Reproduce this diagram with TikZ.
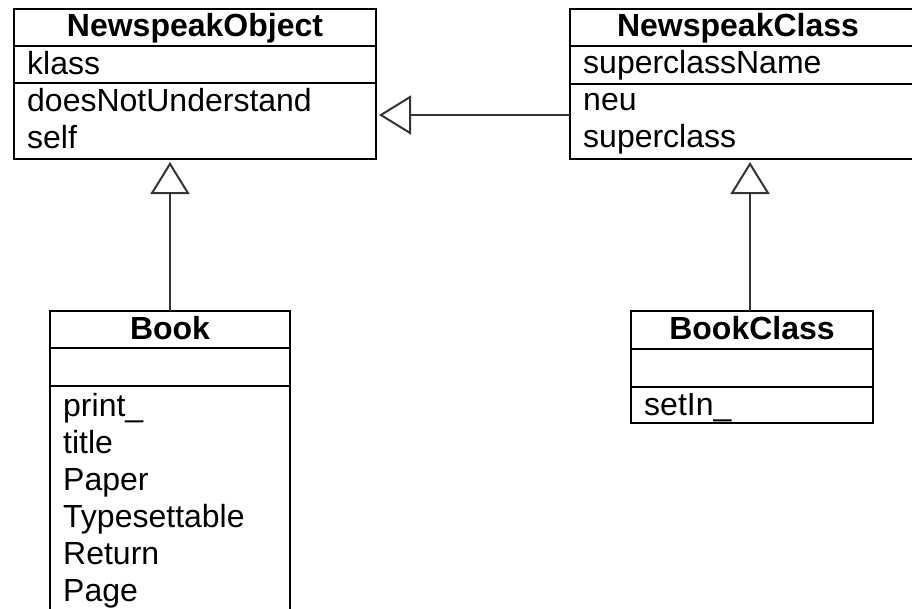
\documentclass[tikz,border=0pt]{standalone}
\usepackage{fontspec}
\setmainfont{Liberation Sans}
\usetikzlibrary{arrows.meta}

\tikzset{
  umlbox/.style={draw, line width=2pt, inner sep=0pt, outer sep=0pt, anchor=north west},
  sep/.style={line width=2pt},
  member/.style={anchor=base west, inner sep=0pt, font=\fontsize{32}{37}\selectfont},
  cname/.style={anchor=base, inner sep=0pt, font=\fontsize{32}{37}\selectfont\bfseries},
  inherit/.style={line width=2pt, draw=black!80, shorten >=3pt,
    -{Triangle[open, length=32pt, width=39pt, line width=2pt]}}
}

\begin{document}
\begin{tikzpicture}[x=1pt, y=-1pt]
\useasboundingbox (0,0) rectangle (912,608);
\clip (0,0) rectangle (912,608);

% NewspeakObject
\node[umlbox, minimum width=362pt, minimum height=150pt] (obj) at (14,9) {};
\draw[sep] (obj.west |- 0,46) -- (obj.east |- 0,46);
\draw[sep] (obj.west |- 0,83) -- (obj.east |- 0,83);
\node[cname] (objT) at (195,36) {NewspeakObject};
\node[member] (objA) at (27,74) {klass};
\node[member] (objM1) at (27,111) {doesNotUnderstand};
\node[member] (objM2) at (27,148) {self};

% NewspeakClass
\node[umlbox, minimum width=380pt, minimum height=150pt] (cls) at (570,9) {};
\draw[sep] (cls.west |- 0,46) -- (cls.east |- 0,46);
\draw[sep] (cls.west |- 0,84) -- (cls.east |- 0,84);
\node[cname] (clsT) at (738,36) {NewspeakClass};
\node[member] (clsA) at (583,73) {superclassName};
\node[member] (clsM1) at (583,110) {neu};
\node[member] (clsM2) at (583,147) {superclass};

% Book
\node[umlbox, minimum width=240pt, minimum height=330pt] (book) at (50,311) {};
\draw[sep] (book.west |- 0,348) -- (book.east |- 0,348);
\draw[sep] (book.west |- 0,386) -- (book.east |- 0,386);
\node[cname] (bookT) at (170,339) {Book};
\node[member] (bookM1) at (63,416) {print\_};
\node[member] (bookM2) at (63,453) {title};
\node[member] (bookM3) at (63,490) {Paper};
\node[member] (bookM4) at (63,527) {Typesettable};
\node[member] (bookM5) at (63,564) {Return};
\node[member] (bookM6) at (63,601) {Page};

% BookClass
\node[umlbox, minimum width=242pt, minimum height=112pt] (bcls) at (631,311) {};
\draw[sep] (bcls.west |- 0,349) -- (bcls.east |- 0,349);
\draw[sep] (bcls.west |- 0,387) -- (bcls.east |- 0,387);
\node[cname] (bclsT) at (752,339) {BookClass};
\node[member] (bclsM1) at (644,415) {setIn\_};

% generalisations
\draw[inherit] (cls.west |- 0,115) -- (obj.east |- 0,115);
\draw[inherit] (book.north) -- (book.north |- obj.south);
\draw[inherit] (bcls.north -| 750,0) -- (750,0 |- cls.south);
\end{tikzpicture}
\end{document}
